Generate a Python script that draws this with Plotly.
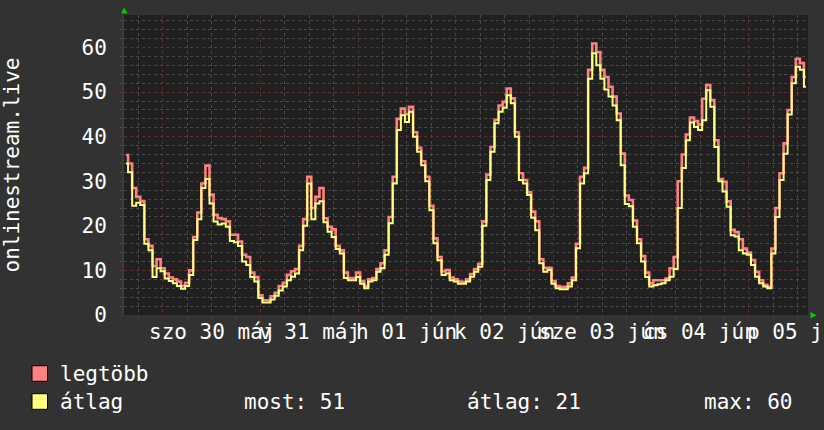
import plotly.graph_objects as go
import pandas as pd

# ---------------- data ----------------
series_start = "2015-05-29 15:00"   # first sample, hourly samples
series_names = ["legtöbb", "átlag"]
series_colors = ["#ff8080", "#ffff80"]

legtobb = [
    35.9, 34.0, 28.5, 26.5, 25.5, 17.0, 15.5, 11.0, 12.5,
    10.5, 9.3, 8.4, 8.0, 7.5, 6.5, 7.2, 10.0, 17.5, 23.0, 29.5, 33.5,
    27.0, 22.5, 21.7, 21.5, 21.0, 18.0, 18.0, 16.5, 13.5, 13.0, 9.5, 8.5,
    4.4, 3.3, 3.3, 4.2, 5.0, 6.5, 7.2, 9.0, 9.8, 10.3, 15.5, 21.5,
    31.0, 24.0, 26.5, 28.5, 21.7, 19.8, 19.2, 15.5, 14.5, 9.5, 8.3, 8.3,
    9.5, 7.6, 6.5, 8.0, 8.3, 10.3, 11.6, 14.5, 22.0, 31.0, 44.0, 46.3,
    45.0, 46.7, 41.0, 37.5, 34.5, 31.0, 24.5, 17.2, 13.0, 9.8, 10.1, 8.4,
    8.0, 7.5, 7.4, 8.0, 9.2, 10.3, 11.5, 21.0, 31.5, 37.7, 43.8, 47.0,
    47.8, 50.8, 48.6, 41.0, 31.8, 30.3, 27.5, 23.2, 21.0, 12.5, 10.6, 10.6,
    7.6, 6.5, 6.3, 6.3, 7.1, 8.4, 16.0, 31.0, 33.0, 55.0, 60.9, 59.0,
    55.0, 53.4, 51.2, 49.0, 45.2, 36.2, 26.8, 25.8, 21.2, 17.0, 13.2, 9.5,
    7.1, 7.8, 7.8, 7.8, 8.2, 10.5, 13.0, 30.0, 36.0, 40.5, 44.3, 43.5,
    42.7, 48.5, 51.6, 48.2, 39.2, 30.5, 29.9, 25.5, 19.1, 18.6, 17.0, 14.9,
    14.0, 12.3, 9.7, 7.8, 6.8, 6.3, 14.9, 24.0, 31.8, 38.5, 46.0, 53.4,
    57.5, 56.5, 53.4,
]

atlag = [
    34.0, 32.0, 24.5, 25.2, 24.7, 16.0, 14.5, 8.5, 10.5,
    9.8, 8.2, 7.6, 7.1, 6.5, 5.9, 6.5, 9.0, 16.8, 21.5, 28.5, 30.5,
    25.0, 21.0, 20.3, 20.5, 19.8, 16.6, 16.3, 15.5, 12.0, 11.2, 8.5, 7.5,
    3.8, 2.8, 2.8, 3.5, 4.3, 5.5, 6.4, 7.8, 8.6, 9.3, 14.5, 20.0,
    29.5, 21.5, 25.0, 25.5, 20.8, 18.7, 17.5, 14.8, 13.8, 8.3, 7.8, 7.8,
    8.5, 7.0, 6.0, 7.5, 7.8, 9.7, 10.5, 13.5, 20.6, 29.5, 41.5, 44.8,
    43.3, 45.6, 40.0, 36.6, 33.6, 30.0, 23.5, 16.1, 12.3, 9.0, 9.3, 7.8,
    7.5, 7.0, 7.0, 7.5, 8.6, 9.7, 10.8, 20.0, 30.3, 36.6, 43.0, 45.6,
    46.5, 49.3, 47.5, 40.0, 30.3, 29.5, 26.9, 21.8, 19.0, 11.6, 9.7, 10.1,
    7.0, 6.0, 5.8, 5.8, 6.4, 7.8, 15.0, 29.5, 31.8, 53.0, 58.7, 56.0,
    53.0, 50.6, 49.0, 47.0, 43.7, 33.6, 24.9, 24.4, 19.8, 16.1, 12.0, 8.5,
    6.4, 6.7, 6.9, 7.1, 7.8, 8.6, 10.3, 24.0, 33.0, 39.2, 43.2, 42.2,
    41.5, 43.7, 50.4, 46.7, 37.7, 30.0, 27.7, 24.3, 17.9, 17.6, 14.5, 13.8,
    13.5, 11.2, 8.6, 7.1, 6.4, 6.0, 13.8, 22.0, 30.3, 36.2, 45.0, 52.0,
    55.7, 55.0, 51.2,
]

day_labels = ["szo 30 máj", "v 31 máj", "h 01 jún", "k 02 jún",
              "sze 03 jún", "cs 04 jún", "p 05 jún"]
day_label_start = "2015-05-30 12:00"
y_tick_values = [0, 10, 20, 30, 40, 50, 60]
y_title = "onlinestream.live"
stat_labels = ["most: 51", "átlag: 21", "max: 60"]

x_range = ["2015-05-29 14:30", "2015-06-05 14:30"]
y_range = [0, 67.3]

# ---------------- figure ----------------
times = pd.date_range(series_start, periods=len(atlag), freq="h")
label_times = pd.date_range(day_label_start, periods=len(day_labels), freq="D")

FONT = "DejaVu Sans Mono"
FS = 21
W, H = 824, 430
ML, MR, MT, MB = 124, 16, 15, 115
PW, PH = W - ML - MR, H - MT - MB


def px(x):
    return (x - ML) / PW


def py(y):
    return (H - MB - y) / PH


fig = go.Figure()
for vals, name, col, lw in [(legtobb, series_names[0], series_colors[0], 2.6),
                            (atlag, series_names[1], series_colors[1], 2.0)]:
    fig.add_trace(go.Scatter(x=times, y=vals, name=name, mode="lines",
                             line=dict(color=col, width=lw, shape="hvh"),
                             hoverinfo="skip", showlegend=False))

MAJ = "#5e3030"
MIN = "#4a4a4a"
fig.update_layout(
    width=W, height=H,
    margin=dict(l=ML, r=MR, t=MT, b=MB, pad=0),
    paper_bgcolor="#323232", plot_bgcolor="#202020",
    font=dict(family=FONT, size=FS, color="#ffffff"),
    showlegend=False,
    xaxis=dict(type="date", range=x_range, showticklabels=False,
               tick0="2015-05-30", dtick=86400000,
               showgrid=True, gridcolor=MAJ, griddash="dot", gridwidth=1,
               ticks="outside", ticklen=3, tickcolor=MAJ,
               minor=dict(tick0="2015-05-30", dtick=21600000, showgrid=True,
                          gridcolor=MIN, griddash="dot", ticks="outside",
                          ticklen=3, tickcolor=MIN),
               zeroline=False, showline=False, fixedrange=True),
    yaxis=dict(range=y_range, tickvals=y_tick_values,
               tickfont=dict(family=FONT, size=FS, color="#ffffff"),
               showgrid=True, gridcolor=MAJ, griddash="dot", gridwidth=1,
               ticks="outside", ticklen=3, tickcolor=MAJ,
               ticklabelstandoff=8,
               minor=dict(dtick=2, showgrid=True, gridcolor=MIN,
                          griddash="dot", ticks="outside", ticklen=3,
                          tickcolor=MIN),
               zeroline=False, showline=True, linecolor="#3c3c3c",
               linewidth=2, fixedrange=True),
)

# day labels centred at noon
for t, lab in zip(label_times, day_labels):
    fig.add_annotation(x=t, y=py(331.5), xref="x", yref="paper", text=lab,
                       showarrow=False, xanchor="center", yanchor="middle",
                       font=dict(family=FONT, size=FS, color="#ffffff"))

# y title
fig.add_annotation(x=px(11.5), y=0.5, xref="paper", yref="paper",
                   text=y_title, textangle=-90, showarrow=False,
                   xanchor="center", yanchor="middle",
                   font=dict(family=FONT, size=FS, color="#ffffff"))

# arrows
fig.add_shape(type="path", xref="paper", yref="paper",
              path=f"M {px(121)},{py(13.5)} L {px(127.5)},{py(13.5)} L {px(124.2)},{py(7.5)} Z",
              fillcolor="#00cc00", line=dict(width=0))
fig.add_shape(type="path", xref="paper", yref="paper",
              path=f"M {px(810.5)},{py(312)} L {px(810.5)},{py(318.5)} L {px(816.5)},{py(315.2)} Z",
              fillcolor="#00cc00", line=dict(width=0))

# legend
legend_rows = [373.5, 401.5]
for name, col, yc in zip(series_names, series_colors, legend_rows):
    fig.add_shape(type="rect", xref="paper", yref="paper",
                  x0=px(32), x1=px(47.5), y0=py(yc - 7.8), y1=py(yc + 7.8),
                  fillcolor=col, line=dict(color="#000000", width=1))
    fig.add_annotation(x=px(58), y=py(yc), xref="paper", yref="paper",
                       text=name, showarrow=False, xanchor="left",
                       yanchor="middle",
                       font=dict(family=FONT, size=FS, color="#ffffff"))

for lab, xl in zip(stat_labels, [242, 465, 702]):
    fig.add_annotation(x=px(xl), y=py(legend_rows[1]), xref="paper",
                       yref="paper", text=lab, showarrow=False,
                       xanchor="left", yanchor="middle",
                       font=dict(family=FONT, size=FS, color="#ffffff"))

fig.write_html("out.html")
